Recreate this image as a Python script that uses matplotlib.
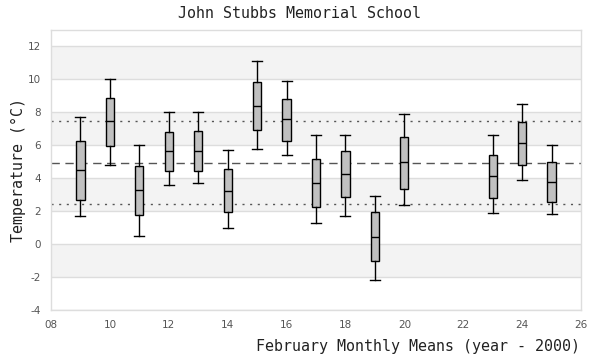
import matplotlib
matplotlib.use("Agg")
import matplotlib.pyplot as plt

years = [9, 10, 11, 12, 13, 14, 15, 16, 17, 18, 19, 20, 23, 24, 25]
whisker_low = [1.70, 4.79, 0.48, 3.58, 3.70, 0.97, 5.76, 5.39, 1.27, 1.70, -2.18, 2.36, 1.88, 3.88, 1.82]
q1 = [2.67, 5.94, 1.76, 4.42, 4.42, 1.94, 6.91, 6.26, 2.24, 2.85, -1.03, 3.33, 2.79, 4.79, 2.55]
median = [4.48, 7.45, 3.27, 5.64, 5.64, 3.21, 8.36, 7.58, 3.70, 4.24, 0.42, 4.97, 4.12, 6.12, 3.76]
q3 = [6.24, 8.88, 4.77, 6.79, 6.85, 4.55, 9.85, 8.83, 5.19, 5.64, 1.92, 6.52, 5.39, 7.39, 4.97]
whisker_high = [7.73, 10.04, 6.04, 8.00, 8.00, 5.70, 11.13, 9.88, 6.64, 6.64, 2.91, 7.88, 6.61, 8.48, 6.00]

overall_mean = 4.92
upper_ref = 7.45
lower_ref = 2.45

x_ticks = [8, 10, 12, 14, 16, 18, 20, 22, 24, 26]
y_ticks = [-4, -2, 0, 2, 4, 6, 8, 10, 12]

title = "John Stubbs Memorial School"
xlabel = "February Monthly Means (year - 2000)"
ylabel = "Temperature (°C)"

fig = plt.figure(figsize=(6, 3.6), dpi=100)
ax = fig.add_axes([51/600, 1-310/360, 530/600, 280/360])
ax.set_xlim(8, 26)
ax.set_ylim(-4, 13)

# alternating bands
for lo in [10, 6, 2, -2]:
    ax.axhspan(lo, lo + 2, color="#f3f3f3", zorder=0, lw=0)
for y in y_ticks:
    ax.axhline(y, color="#dddddd", lw=1, zorder=1)

ax.axhline(overall_mean, color="#555555", lw=1, ls=(0, (6, 4)), zorder=2)
ax.axhline(upper_ref, color="#555555", lw=1, ls=(0, (1.5, 4)), zorder=2)
ax.axhline(lower_ref, color="#555555", lw=1, ls=(0, (1.5, 4)), zorder=2)

stats = []
for i in range(len(years)):
    stats.append(dict(med=median[i], q1=q1[i], q3=q3[i],
                      whislo=whisker_low[i], whishi=whisker_high[i], fliers=[]))
ax.bxp(stats, positions=years, widths=0.28, patch_artist=True, showfliers=False,
       boxprops=dict(facecolor="#c0c0c0", edgecolor="black", linewidth=1),
       medianprops=dict(color="black", linewidth=1),
       whiskerprops=dict(color="black", linewidth=1),
       capprops=dict(color="black", linewidth=1),
       capwidths=0.34, manage_ticks=False, zorder=3)

ax.set_xticks(x_ticks)
ax.set_xticklabels([f"{t:02d}" for t in x_ticks])
ax.set_yticks(y_ticks)
ax.set_yticklabels([str(t) for t in y_ticks])
ax.tick_params(length=0, labelsize=7.5, colors="#555555", pad=7)
for s in ax.spines.values():
    s.set_color("#dddddd")
    s.set_linewidth(1)

mono = "DejaVu Sans Mono"
fig.text(0.5, 1-14/360, title, ha="center", va="center", family=mono, fontsize=10.8, color="#222222")
fig.text(580/600, 1-347/360, xlabel, ha="right", va="center", family=mono, fontsize=10.8, color="#222222")
fig.text(18/600, 1-170/360, ylabel, ha="center", va="center", rotation=90, family=mono, fontsize=10.8, color="#222222")

fig.savefig("out.png", dpi=100)
